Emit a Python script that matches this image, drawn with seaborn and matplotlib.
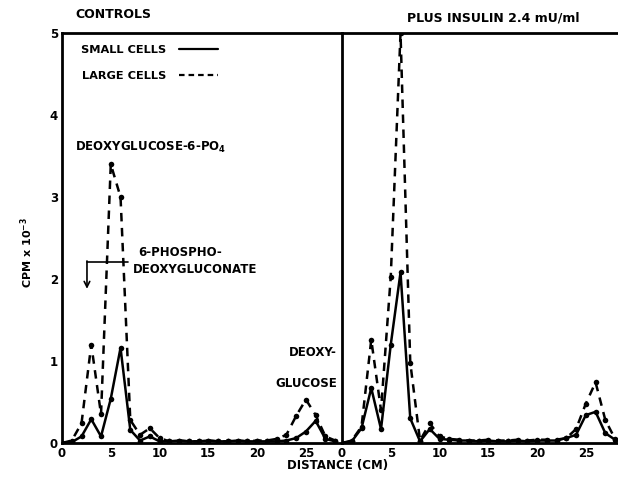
import numpy as np
import pandas as pd
import seaborn as sns
import matplotlib
matplotlib.use("Agg")
import matplotlib.pyplot as plt
from matplotlib.lines import Line2D

# ---- data (CPM x 10^-3 per 1-cm fraction) ----
distance = list(range(0, 29))

controls_small = [0.00, 0.01, 0.08, 0.29, 0.08, 0.54, 1.16, 0.16, 0.03, 0.08,
                  0.02, 0.02, 0.03, 0.02, 0.02, 0.03, 0.02, 0.02, 0.03, 0.02,
                  0.02, 0.02, 0.02, 0.03, 0.06, 0.14, 0.27, 0.05, 0.02]
controls_large = [0.00, 0.03, 0.24, 1.20, 0.35, 3.40, 3.00, 0.28, 0.10, 0.18,
                  0.06, 0.02, 0.03, 0.02, 0.02, 0.03, 0.02, 0.02, 0.03, 0.02,
                  0.03, 0.03, 0.05, 0.10, 0.33, 0.53, 0.34, 0.08, 0.03]
insulin_small = [0.00, 0.02, 0.18, 0.67, 0.17, 1.20, 2.08, 0.30, 0.02, 0.17,
                 0.05, 0.04, 0.03, 0.03, 0.02, 0.03, 0.02, 0.02, 0.03, 0.02,
                 0.03, 0.03, 0.03, 0.06, 0.10, 0.34, 0.38, 0.12, 0.04]
insulin_large = [0.00, 0.03, 0.20, 1.26, 0.40, 2.03, 5.00, 0.98, 0.03, 0.24,
                 0.08, 0.05, 0.04, 0.03, 0.03, 0.04, 0.03, 0.03, 0.04, 0.03,
                 0.04, 0.04, 0.04, 0.06, 0.17, 0.48, 0.74, 0.28, 0.05]

panel_titles = ["CONTROLS", "PLUS INSULIN 2.4 mU/ml"]
series_labels = ["SMALL CELLS", "LARGE CELLS"]
x_ticks = [0, 5, 10, 15, 20, 25]
y_ticks = [0, 1, 2, 3, 4, 5]

sns.set_style("white")
plt.rcParams["font.family"] = ["DejaVu Sans"]
plt.rcParams["font.weight"] = "bold"
for k in ["text.color", "axes.labelcolor", "xtick.color", "ytick.color",
          "axes.edgecolor"]:
    plt.rcParams[k] = "black"

W, H = 618, 480
fig = plt.figure(figsize=(W / 100, H / 100), dpi=100)
ax_l = fig.add_axes([62 / W, 37 / H, 280 / W, 410 / H])
ax_r = fig.add_axes([342 / W, 37 / H, 276 / W, 410 / H])
ax_r.patch.set_alpha(0)

lw = 1.8
dash = (3.4, 2.6)

def draw(ax, small, large):
    df = pd.DataFrame({"x": distance, "small": small, "large": large})
    sns.lineplot(data=df, x="x", y="small", ax=ax, color="black", lw=lw,
                 marker="o", markersize=4, markeredgewidth=0)
    sns.lineplot(data=df, x="x", y="large", ax=ax, color="black", lw=lw,
                 marker="o", markersize=4, markeredgewidth=0,
                 dashes=False, linestyle=(0, dash))
    ax.set_ylim(0, 5)
    ax.set_xticks(x_ticks)
    ax.set_xlabel("")
    ax.set_ylabel("")
    for s in ax.spines.values():
        s.set_linewidth(2.0)
        s.set_color("black")
    ax.tick_params(axis="both", direction="in", length=4, width=1.5,
                   labelsize=8.5, pad=3, colors="black")
    for lab in ax.get_xticklabels() + ax.get_yticklabels():
        lab.set_fontweight("bold")

draw(ax_l, controls_small, controls_large)
draw(ax_r, insulin_small, insulin_large)

ax_l.set_xlim(0, 28.7)
ax_r.set_xlim(0, 28.3)
ax_l.set_yticks(y_ticks)
ax_r.set_yticks([])
ax_r.spines["right"].set_visible(False)
ax_r.spines["left"].set_visible(False)
ax_l.spines["right"].set_zorder(5)

# legend
handles = [Line2D([], [], color="black", lw=1.6),
           Line2D([], [], color="black", lw=1.6, linestyle=(0, (2.5, 1.8)))]
leg = ax_l.legend(handles, series_labels, loc="upper left",
                  bbox_to_anchor=(0.03, 0.995), frameon=False,
                  markerfirst=False, handlelength=3.4, handletextpad=1.2,
                  labelspacing=1.35, prop={"weight": "bold", "size": 8.2})

# titles
fig.text(113 / W, 1 - 15 / H, panel_titles[0], ha="center", va="center",
         fontsize=9, fontweight="bold")
fig.text(493 / W, 1 - 18 / H, panel_titles[1], ha="center", va="center",
         fontsize=9, fontweight="bold")

# annotations
ax_l.text(1.3, 3.61, "DEOXYGLUCOSE-6-PO$_\\mathbf{4}$", ha="left", va="center",
          fontsize=8.5, fontweight="bold")
ax_l.text(7.8, 2.32, "6-PHOSPHO-", ha="left", va="center",
          fontsize=8.5, fontweight="bold")
ax_l.text(7.3, 2.11, "DEOXYGLUCONATE", ha="left", va="center",
          fontsize=8.5, fontweight="bold")
ax_l.plot([2.56, 6.8], [2.21, 2.21], color="black", lw=1.2)
ax_l.annotate("", xy=(2.56, 1.88), xytext=(2.56, 2.22),
              arrowprops=dict(arrowstyle="->", color="black", lw=1.2,
                              shrinkA=0, shrinkB=0))
ax_l.text(28.2, 1.10, "DEOXY-", ha="right", va="center",
          fontsize=8.5, fontweight="bold")
ax_l.text(28.2, 0.73, "GLUCOSE", ha="right", va="center",
          fontsize=8.5, fontweight="bold")

fig.text(27 / W, 1 - 252 / H, "CPM x 10$^{\\mathbf{-3}}$", rotation=90,
         ha="center", va="center", fontsize=8, fontweight="bold")
fig.text(338 / W, 1 - 466 / H, "DISTANCE (CM)", ha="center", va="center",
         fontsize=8.5, fontweight="bold")

fig.savefig("out.png", dpi=100)
